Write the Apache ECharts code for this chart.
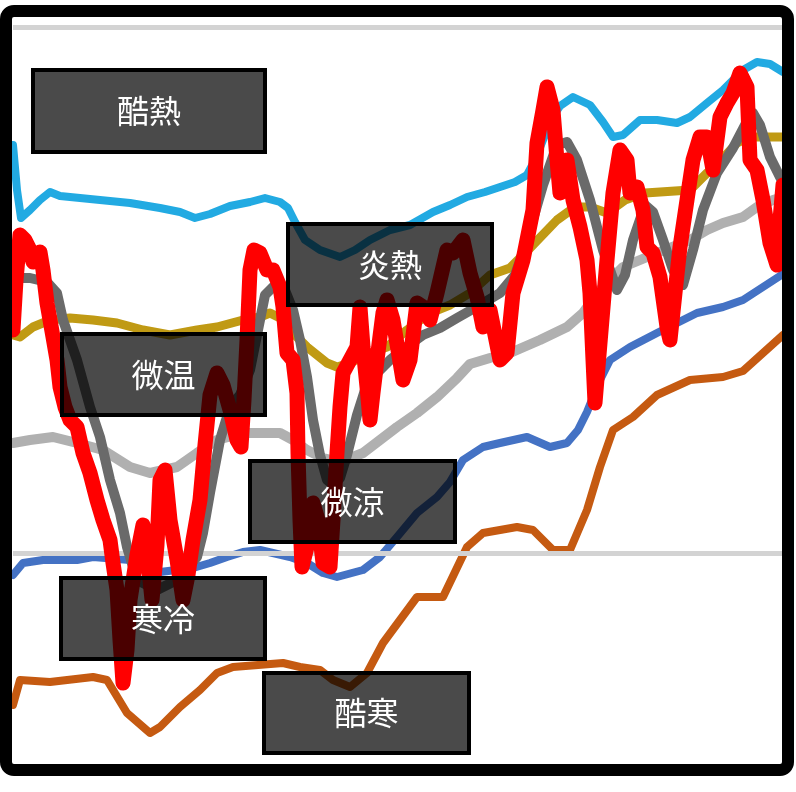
<!DOCTYPE html>
<html>
<head>
<meta charset="utf-8">
<script src="https://cdn.jsdelivr.net/npm/echarts@6/dist/echarts.min.js"></script>
<style>
  html, body { margin: 0; padding: 0; background: #fff; }
  #chart { width: 796px; height: 792px; }
</style>
</head>
<body>
<div id="chart"></div>
<script>
// ---- data: [time index, level] pairs ----
var lightBlue = [[0,124],[0.8,115],[1.6,109.4],[3.4,111],[5.4,113],[7.4,114.6],[9.4,113.8],[13.4,113.4],[17.4,113],[23.4,112.4],[29.4,111.4],[33.4,110.6],[36.4,109.4],[39.4,110.2],[43.4,111.8],[47.4,112.6],[50.4,113.4],[53.4,112.6],[55,111.4],[56.4,108.6],[58.4,105],[61.4,103],[65.4,101.6],[68.4,103],[71.4,105],[75.4,107],[79.4,108],[84,110.6],[87.4,112],[90.8,113.6],[94.4,114.6],[97.4,115.6],[100.4,116.6],[102.8,118],[104.4,121],[106,125],[107.8,129.4],[109.4,131.8],[112,133.6],[115.4,132],[118,128.6],[120,125.6],[122,126],[125.4,129],[128.8,129],[132.8,128.4],[135.4,129.6],[138.8,132.4],[142,135],[146,139],[148.8,140.6],[151.4,140.2],[154,138.6]];

var gold = [[0,86],[1.4,85.6],[4,87.6],[7.4,89],[11.4,89.4],[16,89],[20.8,88.4],[26,87],[31.4,86],[36.8,87],[40.8,87.6],[46,89],[49.4,89.6],[51.4,90.4],[53.4,89.4],[55.4,87],[58.8,83.6],[62.8,80.4],[64.8,79.6],[67.4,80.4],[71.4,82.4],[74.8,83.6],[78.8,87],[83.4,90.4],[87.4,92],[91.4,94.4],[95.4,98],[99.4,99.4],[103.4,103.4],[108.8,109],[112.4,111.6],[115.4,111.6],[118.8,110.4],[122.4,113],[126.4,114.4],[135.4,115],[138.8,118.4],[142,121.4],[144.8,124.4],[147.4,125.6],[154,125.6]];

var darkGray = [[0,97.4],[3.4,97.4],[6.8,96.6],[8.8,94.4],[10,89],[12.8,81],[15.4,71.6],[17.4,65.6],[19.4,57],[21.4,50.4],[22.8,43.6],[24.8,37],[28.8,35],[32.8,37],[36.8,41.6],[38,46.4],[39.4,54.4],[41.4,65],[43.4,71.6],[45.4,74],[47.4,79],[49,87],[50.4,94],[52.4,96],[54.4,95],[56,91],[57.4,85],[58.8,77.6],[60,69],[61.4,62],[62.8,57],[64,56],[65.4,57.4],[66.8,62],[68.8,70],[70.4,75],[72.8,78.4],[75.4,81],[78.4,83.4],[82,86],[85.4,87.4],[88.8,89.4],[93.4,92],[97.4,94.4],[100.4,98],[102.8,105],[106,116],[108.8,124],[110.8,124.6],[112.8,121],[115.4,113],[118,103],[120.8,95],[122.4,98],[124,105],[126.4,112],[128,110.6],[130,105],[132,99],[134,96],[136,103],[138,111],[140.8,118.4],[144,123.4],[146.4,128],[148,130.4],[149.4,128],[151.4,121.6],[154,116.4]];

var lightGray = [[0,64.4],[3.4,65],[8,65.6],[12.8,64.4],[18,63],[23.4,59.6],[27.4,58.4],[32.8,59.6],[36.8,62.4],[40.8,65],[46,66.4],[53.4,66.4],[56,65],[58.8,63],[62,61.4],[65.4,60.6],[70,62.4],[73.4,65],[76.8,67.6],[80.8,70.4],[84.8,73.6],[88.8,77.4],[91.4,80.2],[95.4,81.4],[99.4,82.4],[105.4,85],[110.8,87.6],[114,90.4],[117.4,95],[122,99.6],[128.8,102.4],[135.4,105],[138.8,107],[142,108.4],[146,109.6],[148.8,111.6],[152,113],[154,113.6]];

var blue = [[0,38],[2,40.4],[6,41],[12.8,41],[16,41.6],[23.4,41],[29.4,38.6],[36,39.4],[39.4,40.4],[42.8,41.6],[46,42.6],[49.4,43],[55.4,41.6],[58.8,40.4],[62,38.4],[64.8,37.6],[70,39],[73.4,41.6],[76.8,45.6],[80.8,50.4],[84.8,53.6],[87.4,56.6],[90,61],[94,63.6],[97.4,64.4],[102.8,65.6],[107.4,63.6],[110.8,64.4],[113,67],[114.8,70.6],[117.4,77],[119.4,81],[123.4,83.6],[128.8,86.4],[132.8,88.4],[136.8,90.4],[142,91.6],[146,93],[150,95.6],[154,98.2]];

var orange = [[0,12],[1.4,17],[7.4,16.6],[16,17.6],[18.8,17],[22.8,10.4],[27.4,6.4],[29.4,7.6],[33.4,11.6],[37.4,15],[40.8,18.4],[44,19.6],[54,20.4],[57.4,19.6],[61.4,19],[64,17],[67.4,15.6],[70.8,18.4],[74,24.4],[77.4,29],[80.8,33.6],[86,33.6],[90.8,43.6],[94,46.4],[100.8,47.6],[104,47],[108,43],[111.4,43],[114.8,51],[117.4,59.6],[120,67],[124,69.6],[128.8,74],[135.4,77],[142,77.6],[146,78.8],[150,82.4],[154,86]];

var red = [[0,87],[0.6,97],[1.4,106],[2.4,105],[3.4,103],[4,100.6],[4.8,102],[5.4,102.6],[6,99],[6.8,92.4],[8,85.6],[8.8,81],[9.4,75.6],[10.4,71.6],[11.4,69],[12.8,67.6],[14,62.4],[15.4,58.4],[16.8,53],[18,49],[19.4,45],[20,40.4],[20.8,35],[21.4,25],[22,16.4],[22.8,23],[23.4,33],[24.8,42],[26,48],[27,41],[27.8,33],[28.8,44],[29.4,57],[30.4,59],[31.4,49],[32.8,41],[34,33],[35,38],[36,45],[37.4,53],[38.4,64],[39.4,74],[40.8,78.4],[42,76],[43.4,71],[44.8,65],[45.6,63.6],[46.2,73],[46.8,85],[47.4,99],[48.2,103],[49.4,102.4],[50.8,99],[52,99],[53.4,95.6],[54,91.6],[54.8,82.4],[56,81],[56.8,74.4],[57,62.4],[57.4,49],[57.8,39.6],[58.8,43.6],[60,52.4],[61,49],[62,40.4],[63.4,39.6],[64,49],[64.8,62.4],[65.4,71.6],[66,78.4],[67.4,81],[68.8,83.6],[69.4,91.6],[70,83.6],[70.8,75.6],[71.4,69],[72,74.4],[72.8,81],[74,90.4],[74.8,93],[76,89],[78,77],[79.4,81],[80.8,92.4],[82,91.6],[83.4,89],[84.8,94.4],[86.8,103],[88,102.4],[90,105],[91.4,98.4],[92.8,93.6],[94,87.6],[95.4,91],[97.4,81],[98.8,82.4],[100,94.4],[102,101],[104,111],[104.8,124.4],[106,131],[106.8,135.6],[108,131],[108.8,121],[109.4,114.4],[110.8,121],[112,113],[113.4,107.6],[114.8,101],[115.4,94.4],[116,81],[116.4,72.4],[117.4,84.4],[118.8,101],[120,114.4],[121.4,123],[122.8,121],[123.4,114.4],[124.8,115.6],[126,111],[126.8,103.6],[128,102.4],[129.4,97.6],[130.8,87.6],[131.4,85],[132.4,94.4],[133.4,103.6],[134.8,113],[136,121],[137.4,125.6],[138.8,125.6],[140,119],[141.4,129.6],[142.8,132.4],[144,134.4],[145.4,138.4],[146.8,135.6],[147.4,121],[148.8,119],[150,113],[151.4,104.4],[152.8,100],[153.4,109],[154,116]];

var referenceLevels = [147.6, 42.4];

var zoneLabels = ['酷熱', '炎熱', '微温', '微涼', '寒冷', '酷寒'];

// ---- layout (pixel boxes for the zone labels) ----
var zoneBoxes = [
  {x: 33, y: 70, w: 232, h: 82},
  {x: 288, y: 224, w: 204, h: 81},
  {x: 62, y: 334, w: 203, h: 81},
  {x: 250, y: 461, w: 205, h: 81},
  {x: 61, y: 578, w: 204, h: 81},
  {x: 264, y: 673, w: 205, h: 80}
];

function lineSeries(data, color, width, z) {
  return {
    type: 'line',
    data: data,
    showSymbol: false,
    symbol: 'none',
    z: z,
    animation: false,
    lineStyle: { color: color, width: width, cap: 'round', join: 'round' }
  };
}

var graphics = [];
zoneBoxes.forEach(function (b, i) {
  graphics.push({
    type: 'rect',
    z: 100,
    shape: { x: b.x, y: b.y, width: b.w, height: b.h },
    style: { fill: 'rgba(0,0,0,0.71)', stroke: '#000', lineWidth: 4 }
  });
  graphics.push({
    type: 'text',
    z: 101,
    x: b.x + b.w / 2,
    y: b.y + b.h / 2,
    style: {
      text: zoneLabels[i],
      fill: '#fff',
      fontSize: 32,
      fontWeight: 'normal',
      fontFamily: '"Noto Sans CJK JP", sans-serif',
      align: 'center',
      verticalAlign: 'middle'
    }
  });
});
graphics.push({
  type: 'rect',
  z: 110,
  shape: { x: 6, y: 11, width: 782, height: 759, r: 8 },
  style: { fill: 'none', stroke: '#000', lineWidth: 12 }
});

var chart = echarts.init(document.getElementById('chart'), null, { renderer: 'canvas' });
var refSeries = lineSeries([], '#d5d5d5', 1, 1);
refSeries.markLine = {
  silent: true,
  symbol: 'none',
  label: { show: false },
  lineStyle: { color: '#d3d3d3', width: 5, type: 'solid' },
  data: referenceLevels.map(function (v) { return { yAxis: v }; })
};

chart.setOption({
  animation: false,
  backgroundColor: '#fff',
  grid: { left: 13, right: 13, top: 25, bottom: 27 },
  xAxis: { type: 'value', min: 0, max: 154, show: false },
  yAxis: { type: 'value', min: 0, max: 148, show: false, splitLine: { show: false } },
  series: [
    refSeries,
    lineSeries(orange, '#c55a11', 8, 2),
    lineSeries(blue, '#4472c4', 8, 3),
    lineSeries(lightGray, '#b0b0b0', 10, 4),
    lineSeries(gold, '#c09a14', 9, 5),
    lineSeries(lightBlue, '#22aae2', 8, 6),
    lineSeries(darkGray, '#6a6a6a', 10, 7),
    lineSeries(red, '#ff0000', 15, 8)
  ],
  graphic: graphics
});
</script>
</body>
</html>
